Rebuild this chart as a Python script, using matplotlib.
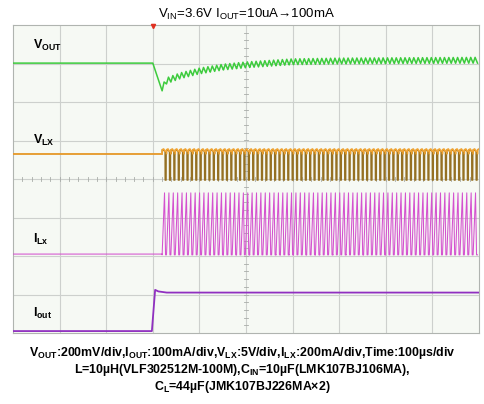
import numpy as np
import matplotlib
matplotlib.use('Agg')
import matplotlib.pyplot as plt

plt.rcParams['font.family'] = ['Liberation Sans', 'DejaVu Sans']
plt.rcParams['mathtext.default'] = 'regular'

# ---------------- data (screen divisions; x: 100us/div, trigger at 3 div) -------------
trig_t = 3.0
sw_start = 3.2
sw_period = 0.094
t_end = 10.0

# VOUT ripple-centre envelope and one ripple cycle
vout_env_t = [0.0, 3.0, 3.2, 3.3, 3.6, 4.0, 4.5, 5.0, 6.0, 7.0, 10.0]
vout_env_y = [7.01, 7.01, 6.36, 6.55, 6.68, 6.80, 6.90, 6.96, 7.04, 7.06, 7.08]
vout_cyc_phase = [0.0, 0.45, 1.0]
vout_cyc_val = [-0.07, 0.08, -0.07]

# VLX levels and one switching cycle
vlx_idle = 4.65
vlx_cyc_phase = [0.0, 0.02, 0.66, 0.68, 0.92, 0.94, 1.0]
vlx_cyc_val = [4.66, 4.76, 4.72, 3.97, 3.97, 4.70, 4.66]
vlx_top_phase = [0.0, 0.02, 0.34, 0.66]
vlx_top_val = [4.66, 4.76, 4.78, 4.72]

# ILX baseline and one triangular cycle
ilx_base = 2.05
ilx_cyc_phase = [0.0, 0.55, 0.78, 1.0]
ilx_cyc_val = [2.03, 3.64, 2.03, 2.03]

# IOUT step
iout_t = [0.0, 2.98, 3.05, 3.12, 3.3, 10.0]
iout_y = [0.05, 0.05, 1.12, 1.08, 1.05, 1.05]

labels = ['V$_{OUT}$', 'V$_{LX}$', 'I$_{Lx}$', 'I$_{out}$']
label_y = [7.48, 5.01, 2.42, 0.52]

title = 'V$_{IN}$=3.6V I$_{OUT}$=10uA\u2192100mA'
caption = ['V$_{OUT}$:200mV/div,I$_{OUT}$:100mA/div,V$_{LX}$:5V/div,I$_{LX}$:200mA/div,Time:100\u00b5s/div',
           'L=10\u00b5H(VLF302512M-100M),C$_{IN}$=10\u00b5F(LMK107BJ106MA),',
           'C$_{L}$=44\u00b5F(JMK107BJ226MA\u00d72)']

# ---------------- build switching traces ----------------
n_cyc = int(np.ceil((t_end - sw_start) / sw_period))
starts = sw_start + sw_period * np.arange(n_cyc)

def tile(phase, vals, gap=False):
    ph = np.asarray(phase, dtype=float)
    vv = np.asarray(vals, dtype=float)
    if gap:
        ph = np.append(ph, ph[-1])
        vv = np.append(vv, np.nan)
    t = (starts[:, None] + ph[None, :] * sw_period).ravel()
    v = np.tile(vv, n_cyc)
    m = t <= t_end
    return t[m], v[m]

# VOUT
tv, rv = tile(vout_cyc_phase, vout_cyc_val)
vout_t = np.concatenate([[0.0, trig_t], tv])
vout_v = np.concatenate([[vout_env_y[0], vout_env_y[1]], np.interp(tv, vout_env_t, vout_env_y) + rv])

# VLX
tl, vl = tile(vlx_cyc_phase, vlx_cyc_val)
vlx_t = np.concatenate([[0.0, sw_start], tl])
vlx_v = np.concatenate([[vlx_idle, vlx_idle], vl])
tt, vt = tile(vlx_top_phase, vlx_top_val, gap=True)

# ILX
ti, vi = tile(ilx_cyc_phase, ilx_cyc_val)
ilx_t = np.concatenate([[0.0, sw_start], ti])
ilx_v = np.concatenate([[ilx_base, ilx_base], vi])

# ---------------- figure ----------------
W, H = 485, 404
fig = plt.figure(figsize=(W / 100, H / 100), dpi=100)
fig.patch.set_facecolor('white')
ax = fig.add_axes([13 / W, 1 - 333 / H, 466 / W, 308 / H])
ax.set_facecolor('#F6F9F4')
ax.set_xlim(0, 10)
ax.set_ylim(0, 8)
for s in ax.spines.values():
    s.set_color('#B0B4B0')
    s.set_linewidth(0.8)
ax.set_xticks([])
ax.set_yticks([])

for x in range(1, 10):
    ax.axvline(x, color='#CDD0CD', lw=0.8, zorder=1)
for y in range(1, 8):
    ax.axhline(y, color='#CDD0CD', lw=0.8, zorder=1)
# centre-line minor ticks
for x in np.arange(0.2, 10, 0.2):
    ax.plot([x, x], [3.96, 4.04], color='#A8ACA8', lw=0.6, zorder=1)
for y in np.arange(0.2, 8, 0.2):
    ax.plot([4.96, 5.04], [y, y], color='#A8ACA8', lw=0.6, zorder=1)

ax.plot(vout_t, vout_v, color='#3DCB3D', lw=1.1, zorder=3)
ax.plot(vlx_t, vlx_v, color='#957022', lw=0.9, zorder=3)
ax.plot(tt, vt, color='#EFA332', lw=1.2, zorder=4)
ax.plot([0, sw_start], [vlx_idle, vlx_idle], color='#F0A030', lw=1.2, zorder=4)
ax.plot(ilx_t, ilx_v, color='#D452CF', lw=0.75, zorder=3)
ax.plot(iout_t, iout_y, color='#9030C0', lw=1.3, zorder=3)

# trigger marker
ax.plot([trig_t], [7.97], marker='v', color='#E03020', ms=3, zorder=5, clip_on=False)

for lab, y in zip(labels, label_y):
    ax.text(0.43, y, lab, fontsize=9, fontweight='bold', va='center', ha='left', zorder=6)

fig.text(246 / W, 1 - 14 / H, title, fontsize=9.5, ha='center', va='center')
for i, line in enumerate(caption):
    fig.text(242 / W, 1 - (353 + 17 * i) / H, line, fontsize=8.9, fontweight='bold',
             ha='center', va='center')

fig.savefig('out.png', dpi=100)
